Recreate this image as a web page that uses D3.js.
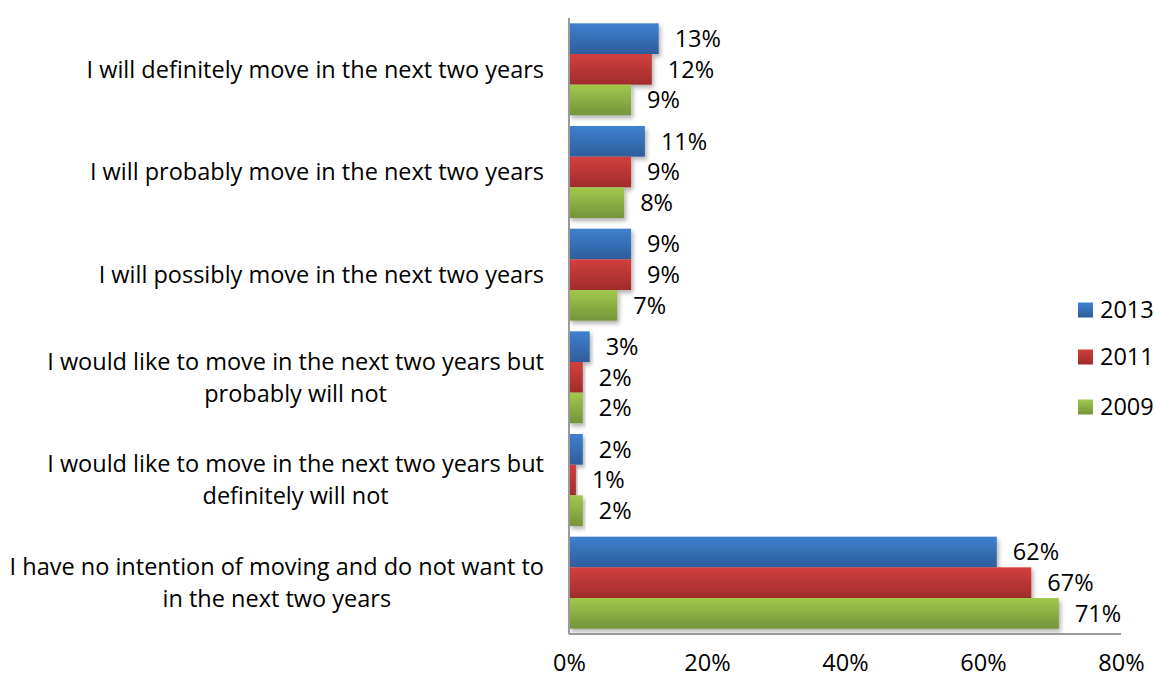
<!DOCTYPE html>
<html>
<head>
<meta charset="utf-8">
<script src="https://cdn.jsdelivr.net/npm/d3@7"></script>
<style>
  html, body { margin: 0; padding: 0; background: #ffffff; }
  svg { display: block; font-family: "Open Sans", Lato, sans-serif; }
</style>
</head>
<body>
<svg id="chart" width="1155" height="678"></svg>
<script>
// Survey answers about moving plans, one group per answer
const categories = [
  ["I will definitely move in the next two years"],
  ["I will probably move in the next two years"],
  ["I will possibly move in the next two years"],
  ["I would like to move in the next two years but", "probably will not"],
  ["I would like to move in the next two years but", "definitely will not"],
  ["I have no intention of moving and do not want to", "in the next two years"]
];
const seriesNames = ["2013", "2011", "2009"];
const values2013 = [13, 11, 9, 3, 2, 62];
const values2011 = [12, 9, 9, 2, 1, 67];
const values2009 = [9, 8, 7, 2, 2, 71];
const tickValues = [0, 20, 40, 60, 80];

const seriesValues = [values2013, values2011, values2009];
const colors = [
  { top: "#3f80cf", bottom: "#2e5d9c" },
  { top: "#d23f3e", bottom: "#a02c2b" },
  { top: "#a0c94c", bottom: "#76943a" }
];

const svg = d3.select("#chart");
const plotLeft = 569, plotRight = 1121, plotTop = 18, plotBottom = 634;
const fontSize = 23.5;

const x = d3.scaleLinear().domain([0, 80]).range([plotLeft, plotRight]);
const y = d3.scaleBand().domain(d3.range(categories.length)).range([plotTop, plotBottom])
  .paddingInner(0.104).paddingOuter(0.052);
const yInner = d3.scaleBand().domain(d3.range(seriesNames.length)).range([0, y.bandwidth()]);

const defs = svg.append("defs");
colors.forEach((c, i) => {
  const g = defs.append("linearGradient").attr("id", "grad" + i)
    .attr("x1", 0).attr("y1", 0).attr("x2", 0).attr("y2", 1);
  g.append("stop").attr("offset", "0%").attr("stop-color", c.top);
  g.append("stop").attr("offset", "100%").attr("stop-color", c.bottom);
});
const shadow = defs.append("filter").attr("id", "shadow")
  .attr("x", "-10%").attr("y", "-20%").attr("width", "130%").attr("height", "160%");
shadow.append("feDropShadow").attr("dx", 2).attr("dy", 3).attr("stdDeviation", 2)
  .attr("flood-color", "#000").attr("flood-opacity", 0.3);

// Bars with value labels
const groups = svg.append("g").selectAll("g").data(categories).join("g")
  .attr("transform", (d, i) => `translate(0,${y(i)})`);
groups.each(function (d, ci) {
  const g = d3.select(this);
  seriesNames.forEach((s, si) => {
    const v = seriesValues[si][ci];
    g.append("rect")
      .attr("x", x(0))
      .attr("y", yInner(si))
      .attr("width", x(v) - x(0))
      .attr("height", yInner.bandwidth())
      .attr("fill", `url(#grad${si})`)
      .attr("filter", "url(#shadow)");
    g.append("text")
      .attr("x", x(v) + 16)
      .attr("y", yInner(si) + yInner.bandwidth() / 2)
      .attr("dy", "0.36em")
      .attr("font-size", fontSize)
      .attr("fill", "#000")
      .text(v + "%");
  });
});

// Axis lines
svg.append("line").attr("x1", plotLeft).attr("x2", plotLeft).attr("y1", plotTop).attr("y2", plotBottom)
  .attr("stroke", "#9a9a9a").attr("stroke-width", 2);
svg.append("line").attr("x1", plotLeft).attr("x2", plotRight).attr("y1", plotBottom).attr("y2", plotBottom)
  .attr("stroke", "#9a9a9a").attr("stroke-width", 2);

// X tick labels
const xAxis = d3.axisBottom(x).tickValues(tickValues).tickFormat(d => d + "%").tickSize(0).tickPadding(0);
const xg = svg.append("g").attr("transform", `translate(0,${plotBottom})`).call(xAxis);
xg.select(".domain").remove();
xg.selectAll("text").attr("font-size", fontSize).attr("font-family", "'Open Sans', Lato, sans-serif")
  .attr("fill", "#000").attr("y", 37).attr("dy", 0);

// Category labels: lines centred with each other, block right-aligned
const labelRight = 544, lineGap = 32;
categories.forEach((lines, ci) => {
  const cy = y(ci) + y.bandwidth() / 2;
  const tmp = lines.map(l => svg.append("text").attr("font-size", fontSize).text(l));
  const widths = tmp.map(t => t.node().getComputedTextLength());
  tmp.forEach(t => t.remove());
  const maxW = d3.max(widths);
  const cx = labelRight - maxW / 2;
  lines.forEach((l, li) => {
    svg.append("text")
      .attr("x", cx)
      .attr("y", cy + (li - (lines.length - 1) / 2) * lineGap)
      .attr("dy", "0.36em")
      .attr("text-anchor", "middle")
      .attr("font-size", fontSize)
      .attr("fill", "#000")
      .text(l);
  });
});

// Legend
const legendY = [310, 357, 407];
seriesNames.forEach((s, i) => {
  svg.append("rect").attr("x", 1078).attr("y", legendY[i] - 7.5).attr("width", 15).attr("height", 15)
    .attr("fill", `url(#grad${i})`);
  svg.append("text").attr("x", 1100).attr("y", legendY[i]).attr("dy", "0.36em")
    .attr("font-size", fontSize).attr("fill", "#000").text(s);
});
</script>
</body>
</html>
